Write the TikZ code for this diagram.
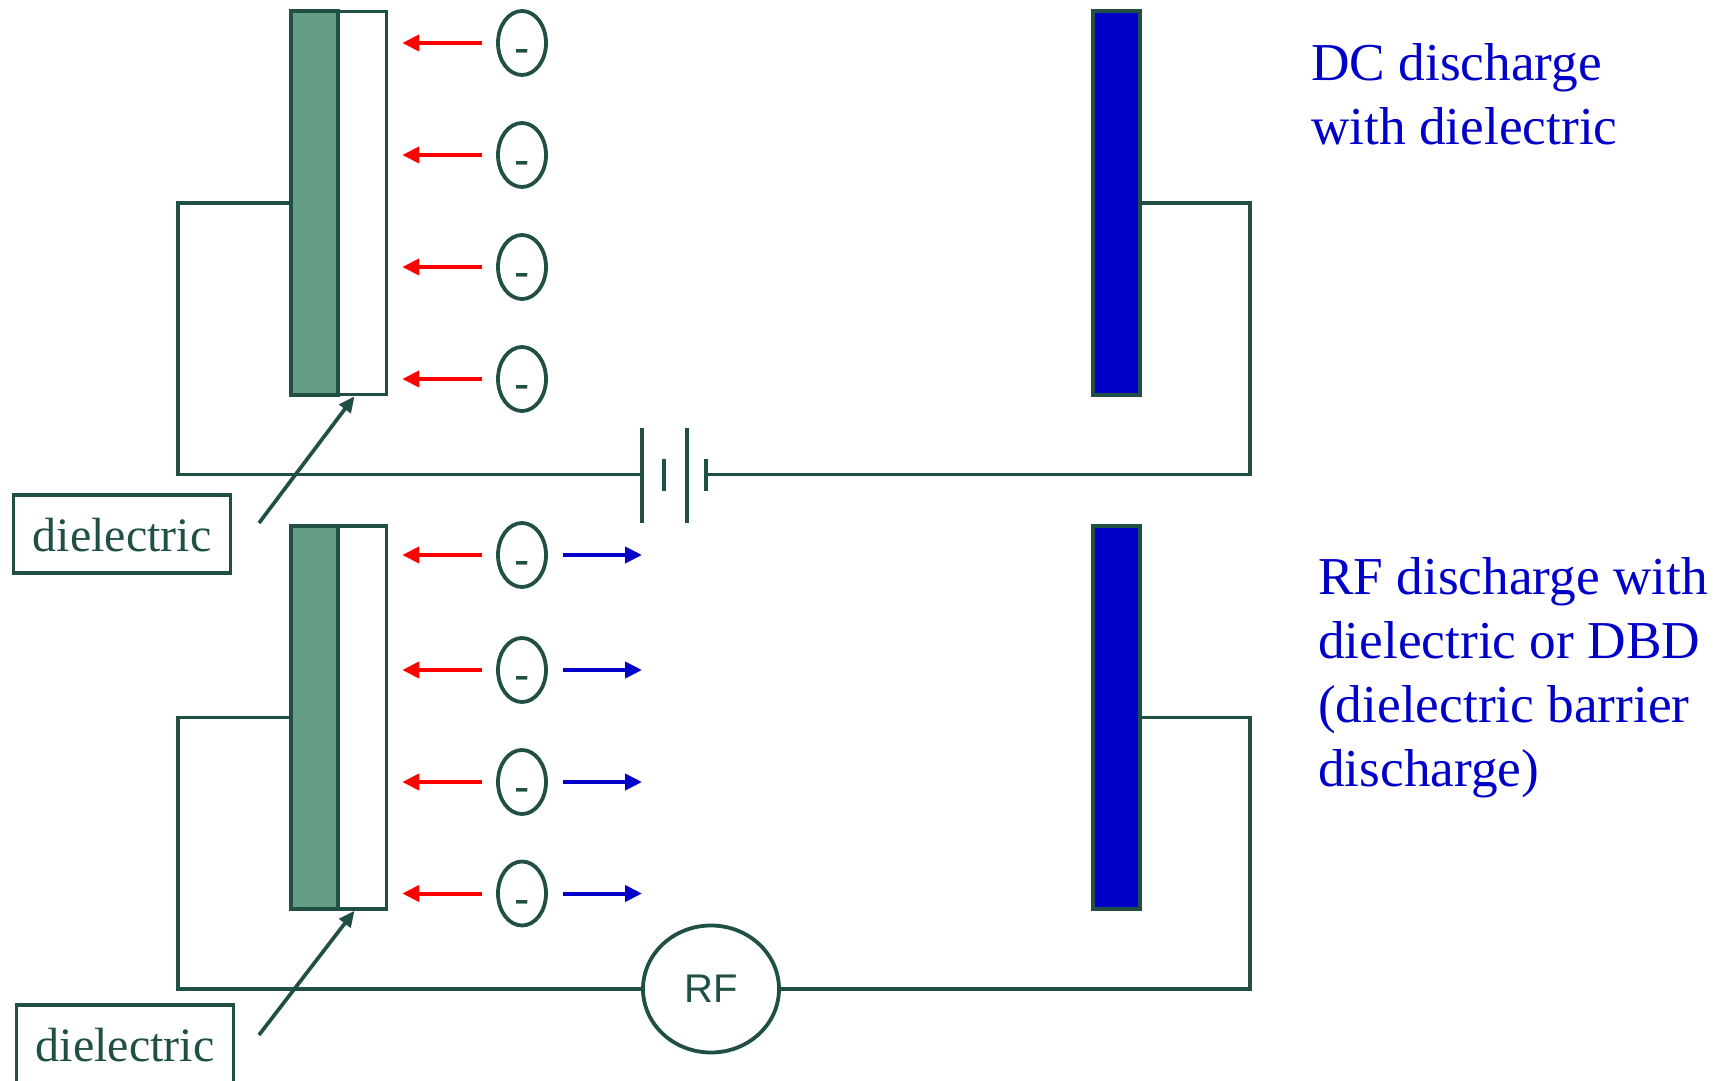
\documentclass[tikz,border=0pt]{standalone}
\usepackage{fontspec}
\setmainfont{Liberation Serif}
\newfontfamily\arialfont{Liberation Sans}
\usetikzlibrary{shapes.geometric, arrows.meta, positioning}
\definecolor{wirecol}{HTML}{1F4F45}
\definecolor{platecol}{HTML}{669E85}
\definecolor{bluecol}{HTML}{0000C8}

\begin{document}
\begin{tikzpicture}[
        x=1pt, y=-1pt,
        wire/.style={draw=wirecol, line width=3.7pt},
        plate/.style={rectangle, draw=wirecol, line width=4pt, minimum width=47pt, minimum height=383pt, inner sep=0pt},
        grounded/.style={plate, fill=platecol},
        barrier/.style={plate, fill=white, line width=3.5pt, minimum width=48pt},
        counter/.style={plate, fill=bluecol, minimum width=47pt},
        ion/.style={ellipse, draw=wirecol, line width=3.8pt, minimum width=48pt, minimum height=64pt, inner sep=0pt, text=wirecol, text height=41pt, text depth=0pt, font=\arialfont\fontsize{46}{46}\selectfont},
        toplate/.style={-{Triangle[length=17pt, width=16pt]}, draw=red, fill=red, line width=4pt, shorten <=14pt, shorten >=14pt},
        away/.style={-{Triangle[length=17pt, width=16pt]}, draw=bluecol, fill=bluecol, line width=4pt, shorten <=15pt},
        pointer/.style={-{Triangle[length=16pt, width=14pt]}, wire},
        tag/.style={rectangle, draw=wirecol, line width=3.7pt, minimum width=217pt, minimum height=78pt, inner sep=0pt, text=wirecol, text height=34pt, text depth=0pt, font=\fontsize{48}{48}\selectfont},
        caption/.style={anchor=north west, align=left, inner sep=0pt, text=bluecol, font=\fontsize{53.3}{64}\selectfont}
    ]
        \useasboundingbox (0,0) rectangle (1727,1081);
        \clip (0,0) rectangle (1727,1081);

        % top circuit
        \node[grounded] (plateA) at (314,203) {};
        \node[barrier] (dielA) at (362.5,203) {};
        \node[counter] (counterA) at (1116,203) {};
        \coordinate (batL) at (642,474.5);
        \coordinate (batR) at (706,474.5);
        \draw[wire] (plateA.west) -- (178,203) |- (batL);
        \draw[wire] (counterA.east) -- (1250,203) |- (batR);
        \draw[wire] (batL) ++(0,-47) -- ++(0,95);
        \draw[wire] (664,459) -- (664,491);
        \draw[wire] (687,428) -- (687,523);
        \draw[wire] (batR) ++(0,-16) -- ++(0,32);
        \foreach \i/\y in {1/43, 2/155, 3/267, 4/379} {
            \node[ion] (ionA\i) at (522,\y) {-};
            \draw[toplate] (ionA\i) -- (ionA\i -| dielA.east);
        }
        \node[tag] (tagA) at (122,534) {dielectric};
        \coordinate (tailA) at (259,523);
        \draw[pointer] (tailA) -- ([xshift=-8pt]dielA.south);
        \node[caption] (capA) at (1311,43) {DC discharge\\with dielectric};

        % bottom circuit
        \node[grounded] (plateB) at (314,717.5) {};
        \node[barrier] (dielB) at (362.5,717.5) {};
        \node[counter] (counterB) at (1116,717.5) {};
        \node[ellipse, draw=wirecol, line width=3.8pt, minimum width=136pt, minimum height=127pt, inner sep=0pt, text=wirecol, font=\arialfont\fontsize{40}{40}\selectfont] (rf) at (711,989) {RF};
        \draw[wire] (plateB.west) -- (178,717.5) |- (rf.west);
        \draw[wire] (counterB.east) -- (1250,717.5) |- (rf.east);
        \foreach \i/\y in {1/555, 2/670, 3/782, 4/893.5} {
            \node[ion] (ionB\i) at (522,\y) {-};
            \coordinate (tipB\i) at (642,\y);
            \draw[toplate] (ionB\i) -- (ionB\i -| dielB.east);
            \draw[away] (ionB\i) -- (tipB\i);
        }
        \node[tag] (tagB) at (125,1044) {dielectric};
        \coordinate (tailB) at (259,1035);
        \draw[pointer] (tailB) -- ([xshift=-8pt]dielB.south);
        \node[caption] (capB) at (1318,557) {RF discharge with\\dielectric or DBD\\(dielectric barrier\\discharge)};
    \end{tikzpicture}
\end{document}
